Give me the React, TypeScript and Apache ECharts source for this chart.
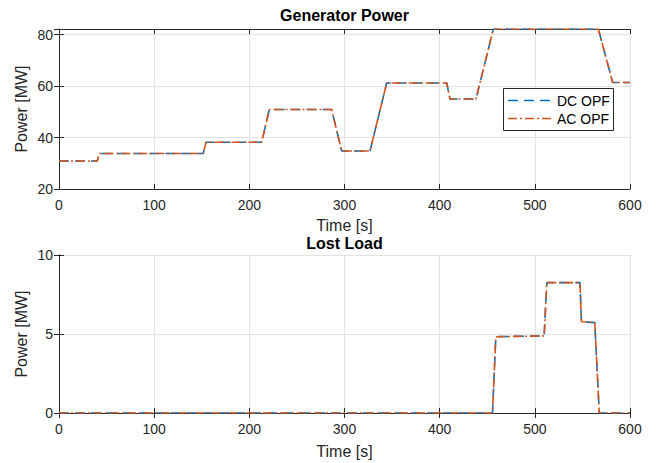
import React, { useEffect, useRef } from "react";
import * as echarts from "echarts";

const genTime = [0, 40.2, 42.4, 151.6, 154.5, 213, 221, 286.5, 297, 326.8, 344.3, 407.4, 410.8, 438.2, 456.4, 566.7, 581.8, 600];
const genDC = [30.9, 30.9, 33.8, 33.8, 38.2, 38.2, 50.9, 50.9, 34.8, 34.8, 61.2, 61.2, 55.0, 55.0, 82.2, 82.2, 61.4, 61.4];
const genAC = [30.9, 30.9, 33.8, 33.8, 38.2, 38.2, 50.9, 50.9, 34.8, 34.8, 61.2, 61.2, 55.0, 55.0, 82.2, 82.2, 61.4, 61.4];

const lossTime = [0, 455.5, 459, 509.8, 512.6, 547.4, 549, 563, 567.7, 600];
const lossDC = [0, 0, 4.83, 4.88, 8.25, 8.25, 5.78, 5.72, 0, 0];
const lossAC = [0, 0, 4.83, 4.88, 8.25, 8.25, 5.78, 5.72, 0, 0];

const xTicks = [0, 100, 200, 300, 400, 500, 600];
const genYTicks = [20, 40, 60, 80];
const lossYTicks = [0, 5, 10];

const titles = ["Generator Power", "Lost Load"];
const seriesNames = ["DC OPF", "AC OPF"];

const FONT = "'Liberation Sans', Arial, sans-serif";
const AX = "#262626";
const BLUE = "#0072BD";
const ORANGE = "#D95319";
const DASH_DC = [10, 6];
const DASH_AC = [9, 3, 2, 3];

function pairs(t: number[], v: number[]) {
  return t.map((x, i) => [x, v[i]]);
}

export default function App() {
  const ref = useRef<HTMLDivElement>(null);
  useEffect(() => {
    if (!ref.current) return;
    const chart = echarts.init(ref.current, undefined, { renderer: "svg" });
    const grids = [
      { left: 59, top: 29, width: 571, height: 160 },
      { left: 59, top: 255, width: 571, height: 158 },
    ];
    const xRange = { min: xTicks[0], max: xTicks[xTicks.length - 1], interval: 100 };
    const yRanges = [
      { min: 20, max: 82.2, interval: 20, ticks: genYTicks },
      { min: 0, max: 10, interval: 5, ticks: lossYTicks },
    ];
    const xAxes: any[] = [];
    const yAxes: any[] = [];
    grids.forEach((_, gi) => {
      xAxes.push({
        type: "value",
        gridIndex: gi,
        position: "bottom",
        ...xRange,
        name: "Time [s]",
        nameLocation: "middle",
        nameGap: gi === 0 ? 28 : 30,
        nameTextStyle: { color: AX, fontSize: 16, fontFamily: FONT },
        axisLine: { show: true, lineStyle: { color: AX, width: 1 } },
        axisTick: { show: true, inside: true, length: 5, lineStyle: { color: AX } },
        axisLabel: { color: AX, fontSize: 14, fontFamily: FONT, margin: 9 },
        splitLine: { show: true, lineStyle: { color: "#e3e3e3", width: 1 } },
      });
      xAxes.push({
        type: "value",
        gridIndex: gi,
        position: "top",
        ...xRange,
        axisLine: { show: true, lineStyle: { color: AX, width: 1 } },
        axisTick: { show: true, inside: true, length: 5, lineStyle: { color: AX } },
        axisLabel: { show: false },
        splitLine: { show: false },
      });
      const yr = yRanges[gi];
      yAxes.push({
        type: "value",
        gridIndex: gi,
        position: "left",
        min: yr.min,
        max: yr.max,
        interval: yr.interval,
        name: "Power [MW]",
        nameLocation: "middle",
        nameGap: 30,
        nameMoveOverlap: false,
        nameTextStyle: { color: AX, fontSize: 16, fontFamily: FONT },
        axisLine: { show: true, lineStyle: { color: AX, width: 1 } },
        axisTick: { show: true, inside: true, length: 5, lineStyle: { color: AX } },
        axisLabel: {
          color: AX,
          fontSize: 14,
          fontFamily: FONT,
          margin: 6,
          formatter: (v: number) => (yr.ticks.includes(v) ? String(v) : ""),
        },
        splitLine: { show: true, lineStyle: { color: "#e3e3e3", width: 1 } },
      });
      yAxes.push({
        type: "value",
        gridIndex: gi,
        position: "right",
        min: yr.min,
        max: yr.max,
        interval: yr.interval,
        axisLine: { show: true, lineStyle: { color: AX, width: 1 } },
        axisTick: { show: true, inside: true, length: 5, lineStyle: { color: AX } },
        axisLabel: { show: false },
        splitLine: { show: false },
      });
    });

    const mk = (name: string, data: number[][], gi: number, color: string, dash: number[]) => ({
      type: "line",
      name,
      xAxisIndex: gi * 2,
      yAxisIndex: gi * 2,
      data,
      symbol: "none",
      showSymbol: false,
      lineStyle: { color, width: 1.6, type: dash },
      itemStyle: { color },
      silent: true,
    });

    const lx = 503.5, ly = 88.5, lw = 110, lh = 42;
    const rows = [
      { name: seriesNames[0], color: BLUE, dash: DASH_DC, y: 100.5 },
      { name: seriesNames[1], color: ORANGE, dash: DASH_AC, y: 118.5 },
    ];
    const legendGraphic: any[] = [
      {
        type: "rect",
        shape: { x: lx, y: ly, width: lw, height: lh },
        style: { fill: "#fff", stroke: AX, lineWidth: 1 },
        z: 100,
      },
    ];
    rows.forEach((r) => {
      legendGraphic.push({
        type: "line",
        shape: { x1: 508, y1: r.y, x2: 553, y2: r.y },
        style: { stroke: r.color, lineWidth: 1.6, lineDash: r.dash },
        z: 101,
      });
      legendGraphic.push({
        type: "text",
        x: 557,
        y: r.y,
        style: {
          text: r.name,
          fill: "#000",
          font: `14px ${FONT}`,
          textVerticalAlign: "middle",
          verticalAlign: "middle",
        },
        z: 101,
      });
    });

    chart.setOption({
      animation: false,
      backgroundColor: "#ffffff",
      title: titles.map((t, i) => ({
        text: t,
        left: 344.5,
        top: i === 0 ? 7 : 235,
        textAlign: "center",
        padding: 0,
        textStyle: { color: "#000", fontSize: 16, fontWeight: "bold", fontFamily: FONT, lineHeight: 16 },
      })),
      grid: grids,
      xAxis: xAxes,
      yAxis: yAxes,
      graphic: legendGraphic,
      series: [
        mk(seriesNames[0], pairs(genTime, genDC), 0, BLUE, DASH_DC),
        mk(seriesNames[1], pairs(genTime, genAC), 0, ORANGE, DASH_AC),
        mk(seriesNames[0], pairs(lossTime, lossDC), 1, BLUE, DASH_DC),
        mk(seriesNames[1], pairs(lossTime, lossAC), 1, ORANGE, DASH_AC),
      ],
    });
    return () => chart.dispose();
  }, []);
  return (
    <div
      ref={ref}
      style={{ position: "absolute", left: 0, top: 0, width: 656, height: 463 }}
    />
  );
}
